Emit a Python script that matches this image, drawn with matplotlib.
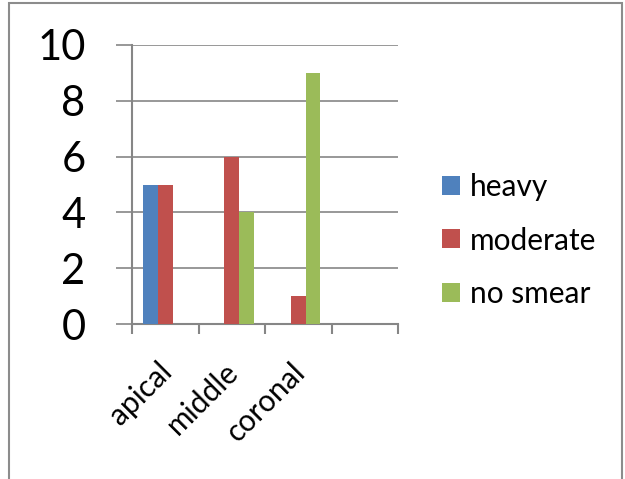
import matplotlib
matplotlib.use("Agg")
import matplotlib.pyplot as plt
import matplotlib.transforms as mtransforms
from matplotlib.patches import Rectangle
import numpy as np

# Data
categories = ["apical", "middle", "coronal", ""]
series_names = ["heavy", "moderate", "no smear"]
heavy = [5, 0, 0, 0]
moderate = [5, 6, 1, 0]
no_smear = [0, 4, 9, 0]
y_ticks = [0, 2, 4, 6, 8, 10]

colors = ["#4F81BD", "#C0504D", "#9BBB59"]
grid_color = "#868686"
font = ["Lato", "DejaVu Sans"]

plt.rcParams["font.family"] = font

fig = plt.figure(figsize=(6.25, 4.79), dpi=100)
ax = fig.add_axes([132 / 625, 1 - 324.3 / 479, (398 - 132) / 625, (324.3 - 44.7) / 479])

n = len(categories)
x = np.arange(n)
bw = 1 / 4.5
values = [heavy, moderate, no_smear]
for i, (vals, name, c) in enumerate(zip(values, series_names, colors)):
    ax.bar(x + (i - 1) * bw, vals, width=bw, color=c, label=name, zorder=3,
           linewidth=0)

ax.set_xlim(-0.5, n - 0.5)
ax.set_ylim(0, 10)

# gridlines
ax.set_yticks(y_ticks)
ax.yaxis.grid(True, color=grid_color, linewidth=1.2, zorder=0)
ax.set_axisbelow(True)

for side in ["top", "right"]:
    ax.spines[side].set_visible(False)
for side in ["left", "bottom"]:
    ax.spines[side].set_color(grid_color)
    ax.spines[side].set_linewidth(1.5)

ax.set_xticks(np.arange(-0.5, n, 1.0))
ax.set_xticklabels([])
ax.tick_params(axis="x", length=7, width=1.5, color=grid_color, direction="out")
ax.tick_params(axis="y", length=11.5, width=1.2, color=grid_color, direction="out",
               labelsize=30, pad=22, labelcolor="black")

# rotated category labels
offset = mtransforms.ScaledTranslation(-8 / 100, -33 / 100, fig.dpi_scale_trans)
trans = mtransforms.blended_transform_factory(ax.transData, ax.transAxes) + offset
for xi, lab in zip(x, categories):
    if lab:
        ax.text(xi, 0, lab, transform=trans, rotation=45, ha="right", va="top",
                rotation_mode="anchor", fontsize=21.5, color="black")

# legend
leg = fig.legend(loc="center left", bbox_to_anchor=(442 / 625, 1 - 240.5 / 479),
                 frameon=False, fontsize=21.5, handlelength=0.6, handleheight=0.6,
                 handletextpad=0.34, labelspacing=0.85, borderpad=0, borderaxespad=0)

# outer chart border
fig.patches.append(Rectangle((9 / 625, -0.05), (622 - 9) / 625, 1.05 - 3 / 479,
                             transform=fig.transFigure, fill=False,
                             edgecolor="#8c8c8c", linewidth=1.5))

fig.savefig("out.png", dpi=100)
